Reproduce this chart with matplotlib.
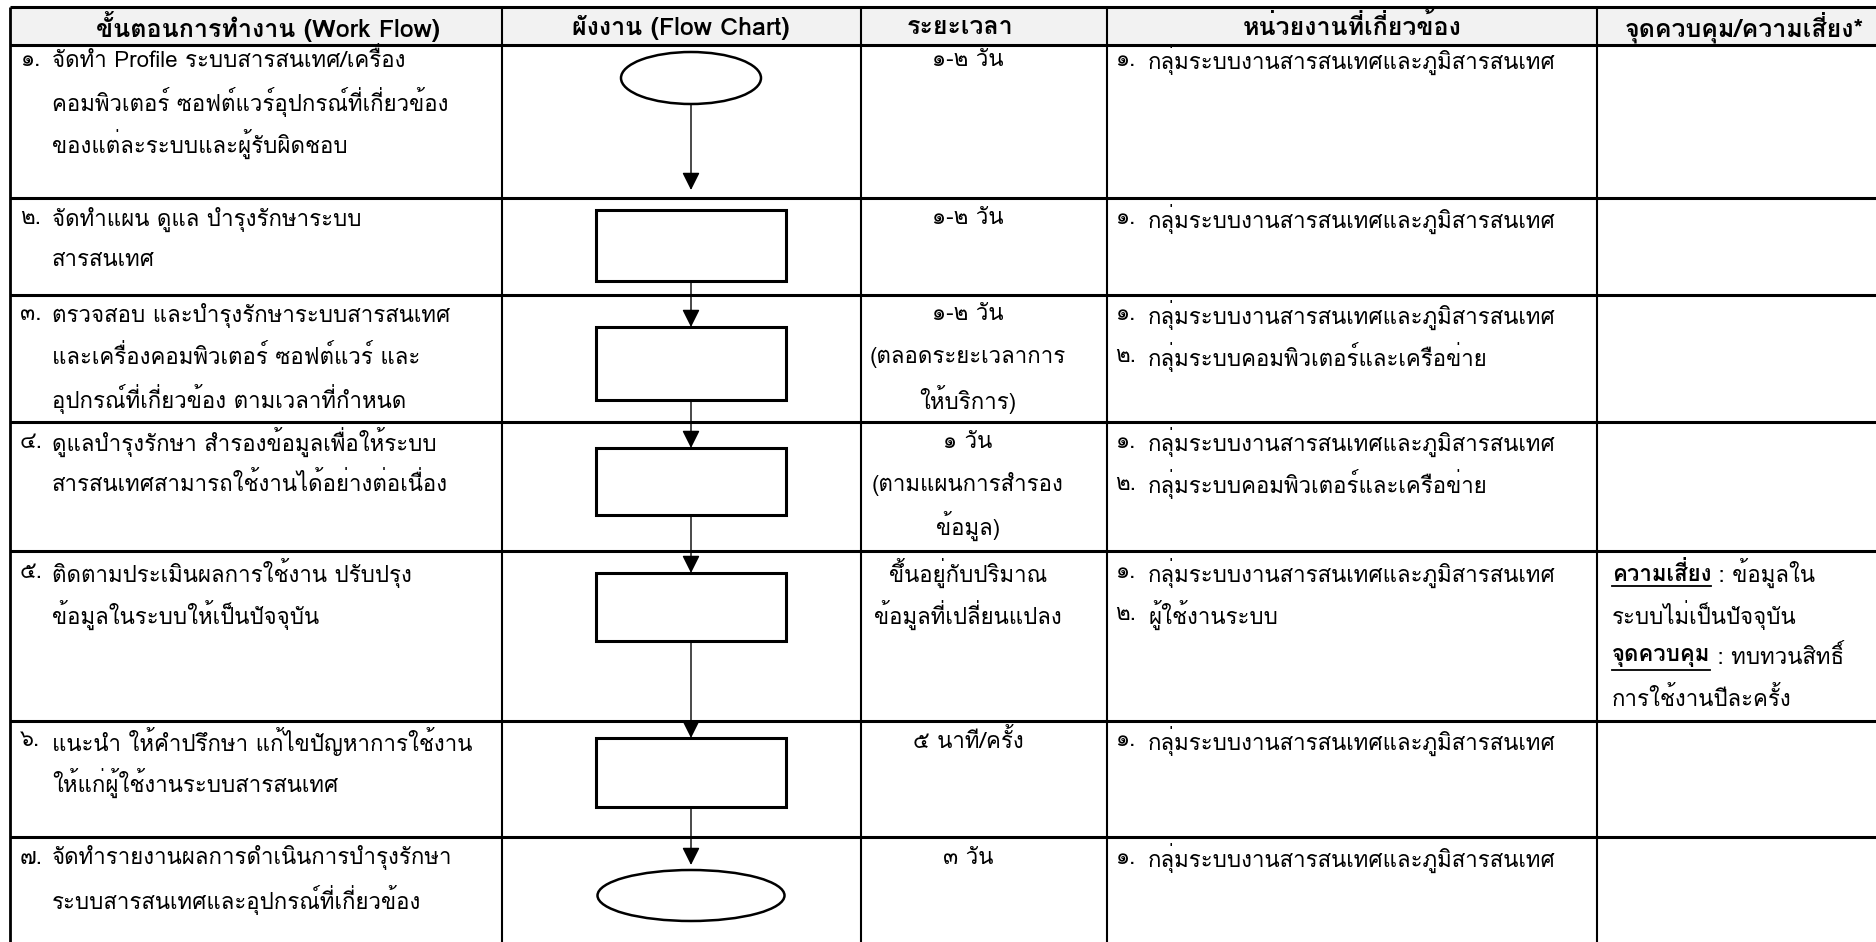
import matplotlib
matplotlib.use("Agg")
import matplotlib.pyplot as plt
from matplotlib import font_manager
from matplotlib.ft2font import FT2Font
from matplotlib.patches import Rectangle, Ellipse

# ---- data -------------------------------------------------------------
headers = ["ขั้นตอนการทำงาน (Work Flow)", "ผังงาน (Flow Chart)", "ระยะเวลา",
           "หน่วยงานที่เกี่ยวข้อง", "จุดควบคุม/ความเสี่ยง*"]

step_no = ["๑.", "๒.", "๓.", "๔.", "๕.", "๖.", "๗."]
steps = [
    ["จัดทำ Profile ระบบสารสนเทศ/เครื่อง", "คอมพิวเตอร์ ซอฟต์แวร์อุปกรณ์ที่เกี่ยวข้อง",
     "ของแต่ละระบบและผู้รับผิดชอบ"],
    ["จัดทำแผน ดูแล บำรุงรักษาระบบ", "สารสนเทศ"],
    ["ตรวจสอบ และบำรุงรักษาระบบสารสนเทศ", "และเครื่องคอมพิวเตอร์ ซอฟต์แวร์ และ",
     "อุปกรณ์ที่เกี่ยวข้อง ตามเวลาที่กำหนด"],
    ["ดูแลบำรุงรักษา สำรองข้อมูลเพื่อให้ระบบ", "สารสนเทศสามารถใช้งานได้อย่างต่อเนื่อง"],
    ["ติดตามประเมินผลการใช้งาน ปรับปรุง", "ข้อมูลในระบบให้เป็นปัจจุบัน"],
    ["แนะนำ ให้คำปรึกษา แก้ไขปัญหาการใช้งาน", "ให้แก่ผู้ใช้งานระบบสารสนเทศ"],
    ["จัดทำรายงานผลการดำเนินการบำรุงรักษา", "ระบบสารสนเทศและอุปกรณ์ที่เกี่ยวข้อง"],
]
durations = [
    ["๑-๒ วัน"],
    ["๑-๒ วัน"],
    ["๑-๒ วัน", "(ตลอดระยะเวลาการ", "ให้บริการ)"],
    ["๑ วัน", "(ตามแผนการสำรอง", "ข้อมูล)"],
    ["ขึ้นอยู่กับปริมาณ", "ข้อมูลที่เปลี่ยนแปลง"],
    ["๕ นาที/ครั้ง"],
    ["๓ วัน"],
]
units = [
    ["กลุ่มระบบงานสารสนเทศและภูมิสารสนเทศ"],
    ["กลุ่มระบบงานสารสนเทศและภูมิสารสนเทศ"],
    ["กลุ่มระบบงานสารสนเทศและภูมิสารสนเทศ", "กลุ่มระบบคอมพิวเตอร์และเครือข่าย"],
    ["กลุ่มระบบงานสารสนเทศและภูมิสารสนเทศ", "กลุ่มระบบคอมพิวเตอร์และเครือข่าย"],
    ["กลุ่มระบบงานสารสนเทศและภูมิสารสนเทศ", "ผู้ใช้งานระบบ"],
    ["กลุ่มระบบงานสารสนเทศและภูมิสารสนเทศ"],
    ["กลุ่มระบบงานสารสนเทศและภูมิสารสนเทศ"],
]
unit_no = ["๑.", "๒."]
shapes = ["ellipse", "rect", "rect", "rect", "rect", "rect", "ellipse"]
# control/risk column: (bold underlined label, rest) per line, row index 4
control_row = 4
control_lines = [("ความเสี่ยง", " : ข้อมูลใน"), ("", "ระบบไม่เป็นปัจจุบัน"),
                 ("จุดควบคุม", " : ทบทวนสิทธิ์"), ("", "การใช้งานปีละครั้ง")]

# ---- layout (pixel units) ---------------------------------------------
W, H = 1876, 942
col_x = [10, 502, 861, 1107, 1597]
row_y = [7, 45, 198, 295, 422, 551, 721, 837, 960]
text_off = [15, 21, 20, 20, 22, 20, 21]
shape_top = [7, 12, 32, 26, 22, 17, 33]
shape_h = [52, 71, 73, 67, 68, 69, 51]
shape_w = [140, 190, 190, 190, 190, 190, 187]
arrow_gap = [20, 0, 0, 0, 0, 5]
flow_cx = 691
line_gap = 42
dur_cx = 968


def thai_family():
    found = []
    for f in font_manager.fontManager.ttflist:
        try:
            cmap = FT2Font(f.fname).get_charmap()
        except Exception:
            continue
        if 0x0E01 in cmap and 0x0E33 in cmap:
            found.append(f.name)
    return found


thai = thai_family()
fams = (thai[:1] if thai else []) + ["DejaVu Sans"]
plt.rcParams["font.family"] = fams

fig = plt.figure(figsize=(W / 100, H / 100), dpi=100)
ax = fig.add_axes([0, 0, 1, 1])
ax.set_xlim(0, W)
ax.set_ylim(H, 0)
ax.axis("off")

fs = 16
hfs = 18

# header background
ax.add_patch(Rectangle((col_x[0], row_y[0]), W - col_x[0] + 5, row_y[1] - row_y[0],
                       facecolor="#f2f2f2", edgecolor="none", zorder=0))

# grid lines
for y in row_y[:-1]:
    ax.plot([col_x[0], W + 5], [y, y], color="black", lw=2.2, solid_capstyle="butt")
for x in col_x:
    ax.plot([x, x], [row_y[0], H + 5], color="black", lw=1.5 if x != col_x[0] else 2.0,
            solid_capstyle="butt")

# headers
hcent = [268, 681, 960, 1352, 1744]
for h, cx in zip(headers, hcent):
    ax.text(cx, (row_y[0] + row_y[1]) / 2 + 1, h, ha="center", va="center",
            fontsize=hfs, fontweight="bold")

for i in range(len(steps)):
    top = row_y[i + 1]
    ty = top + text_off[i]
    # step text
    ax.text(20, ty, step_no[i], ha="left", va="center", fontsize=fs)
    for j, ln in enumerate(steps[i]):
        ax.text(52, ty + j * line_gap, ln, ha="left", va="center", fontsize=fs)
    # duration
    for j, ln in enumerate(durations[i]):
        ax.text(dur_cx, ty + j * line_gap, ln, ha="center", va="center", fontsize=fs)
    # units
    for j, ln in enumerate(units[i]):
        ax.text(1115, ty + j * line_gap, unit_no[j], ha="left", va="center", fontsize=fs)
        ax.text(1148, ty + j * line_gap, ln, ha="left", va="center", fontsize=fs)
    # shapes
    sy = top + shape_top[i]
    if shapes[i] == "ellipse":
        ax.add_patch(Ellipse((flow_cx, sy + shape_h[i] / 2), shape_w[i], shape_h[i],
                             facecolor="white", edgecolor="black", lw=1.8, zorder=3))
    else:
        ax.add_patch(Rectangle((flow_cx - shape_w[i] / 2, sy), shape_w[i], shape_h[i],
                               facecolor="white", edgecolor="black", lw=2.2, zorder=3))

# arrows between shapes
for i in range(len(steps) - 1):
    y0 = row_y[i + 1] + shape_top[i] + shape_h[i] - 4
    y1 = row_y[i + 2] + shape_top[i + 1] - arrow_gap[i]
    ax.annotate("", xy=(flow_cx, y1), xytext=(flow_cx, y0),
                arrowprops=dict(arrowstyle="-|>,head_length=0.36,head_width=0.18",
                                color="black", lw=1.0,
                                mutation_scale=30, shrinkA=0, shrinkB=0), zorder=2)

# control / risk notes with bold underlined labels
fig.canvas.draw()
r = fig.canvas.get_renderer()
top = row_y[control_row + 1]
inv = ax.transData.inverted()
for j, (lab, rest) in enumerate(control_lines):
    y = top + text_off[control_row] + j * line_gap
    x = 1612
    if lab:
        t = ax.text(x, y, lab, ha="left", va="center", fontsize=fs, fontweight="bold")
        bb = t.get_window_extent(r)
        (x0, _), (x1, _) = inv.transform([(bb.x0, bb.y0), (bb.x1, bb.y0)])
        ax.plot([x0, x1], [y + 13, y + 13], color="black", lw=1.3)
        x = x1
    ax.text(x, y, rest, ha="left", va="center", fontsize=fs)

fig.savefig("out.png", dpi=100)
